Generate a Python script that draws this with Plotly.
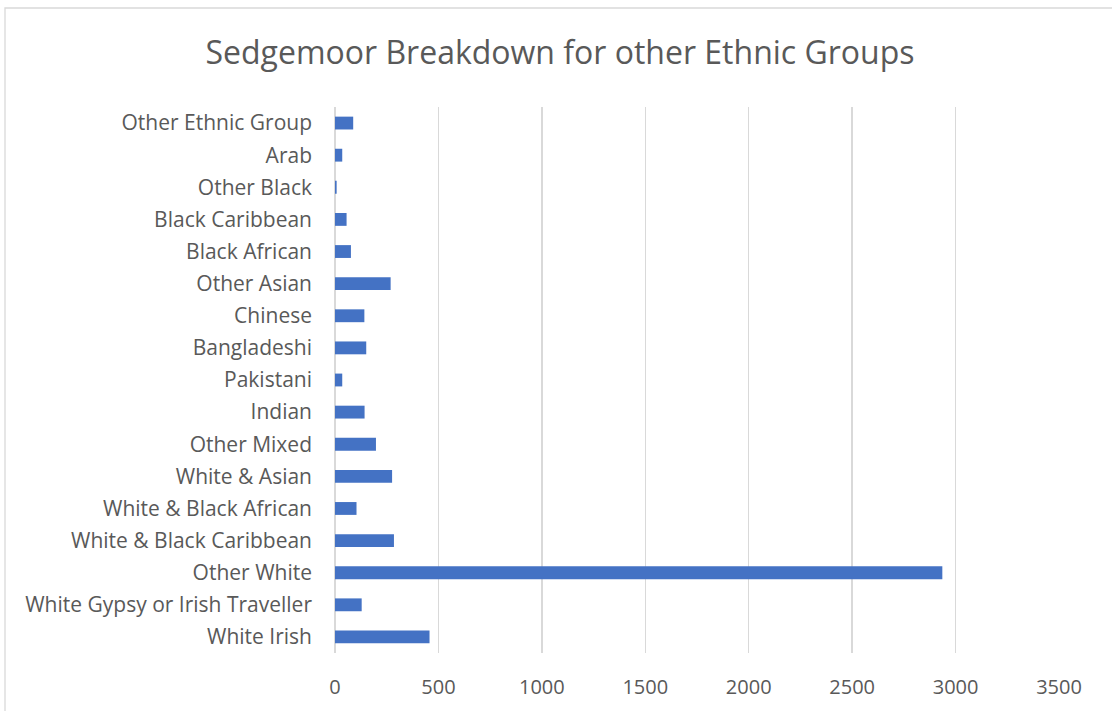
import plotly.graph_objects as go

categories = [
    "White Irish", "White Gypsy or Irish Traveller", "Other White",
    "White & Black Caribbean", "White & Black African", "White & Asian",
    "Other Mixed", "Indian", "Pakistani", "Bangladeshi", "Chinese",
    "Other Asian", "Black African", "Black Caribbean", "Other Black",
    "Arab", "Other Ethnic Group",
]
values = [457, 129, 2936, 285, 104, 276, 198, 143, 35, 151, 142, 269, 77, 56, 8, 35, 88]
x_ticks = [0, 500, 1000, 1500, 2000, 2500, 3000, 3500]

title_text = "Sedgemoor Breakdown for other Ethnic Groups"

W, H = 1112, 711
ML, MR, MT, MB = 335, 53, 107, 58
PW, PH = W - ML - MR, H - MT - MB

def px_x(px):
    return (px - ML) / PW

def px_y(py):
    return (H - MB - py) / PH

font_family = "Open Sans, Lato, sans-serif"
text_color = "#595959"
grid_color = "#D9D9D9"

fig = go.Figure(
    go.Bar(
        x=values,
        y=categories,
        orientation="h",
        marker=dict(color="#4472C4", line=dict(width=0)),
        width=0.4,
    )
)

fig.update_layout(
    width=W,
    height=H,
    margin=dict(l=ML, r=MR, t=MT, b=MB, autoexpand=False),
    paper_bgcolor="white",
    plot_bgcolor="white",
    showlegend=False,
    font=dict(family=font_family, color=text_color),
    title=dict(
        text=title_text,
        x=560 / W,
        xanchor="center",
        y=1 - 53 / H,
        yanchor="middle",
        font=dict(size=32, color=text_color, family=font_family),
    ),
    xaxis=dict(
        range=[0, 3500],
        tickvals=x_ticks,
        ticktext=[str(v) for v in x_ticks],
        showgrid=True,
        gridcolor=grid_color,
        gridwidth=1.3,
        zeroline=True,
        zerolinecolor=grid_color,
        zerolinewidth=1.3,
        showline=False,
        ticks="",
        ticklabelstandoff=20,
        tickfont=dict(size=20, color=text_color),
        fixedrange=True,
    ),
    yaxis=dict(
        categoryorder="array",
        categoryarray=categories,
        range=[-0.5, len(categories) - 0.5],
        showgrid=False,
        zeroline=False,
        showline=False,
        ticks="",
        ticklabelstandoff=22,
        tickfont=dict(size=21, color=text_color),
        fixedrange=True,
    ),
    shapes=[
        dict(
            type="rect",
            xref="paper",
            yref="paper",
            x0=px_x(5),
            x1=px_x(1125),
            y0=px_y(725),
            y1=px_y(8),
            line=dict(color=grid_color, width=1.3),
            fillcolor="rgba(0,0,0,0)",
            layer="below",
        )
    ],
)

fig.write_html(
    "out.html",
    config={"displayModeBar": False, "staticPlot": True},
    post_script="document.body.style.margin='0';document.body.style.overflow='hidden';",
)
